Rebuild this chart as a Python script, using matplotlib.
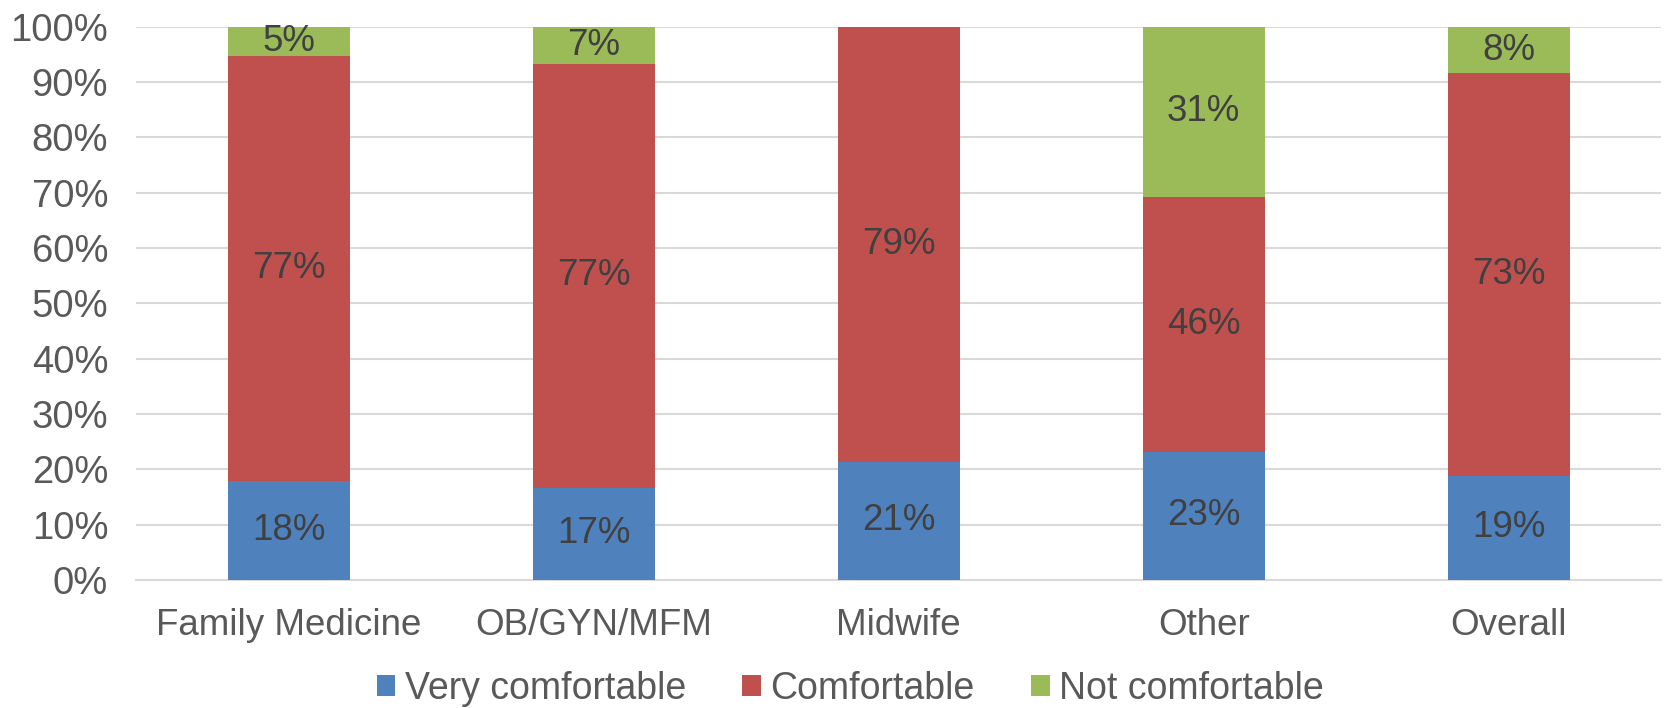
import numpy as np
import matplotlib.pyplot as plt

plt.rcParams['font.family'] = ['Liberation Sans', 'DejaVu Sans']

categories = ['Family Medicine', 'OB/GYN/MFM', 'Midwife', 'Other', 'Overall']
very_comfortable = [17.9, 16.7, 21.4, 23.1, 18.8]
comfortable = [76.9, 76.6, 78.6, 46.2, 72.8]
not_comfortable = [5.2, 6.7, 0.0, 30.7, 8.4]

series = [
    ('Very comfortable', very_comfortable, '#4F81BD'),
    ('Comfortable', comfortable, '#C0504D'),
    ('Not comfortable', not_comfortable, '#9BBB59'),
]

fig = plt.figure(figsize=(16.67, 7.08), dpi=100)
ax = fig.add_axes([0.0816, 0.181, 0.915, 0.781])

x = np.arange(len(categories))
bottom = np.zeros(len(categories))
for name, vals, color in series:
    vals = np.array(vals)
    bars = ax.bar(x, vals, 0.4, bottom=bottom, color=color, label=name, zorder=3)
    labels = [f'{v:.0f}%' if v > 0 else '' for v in vals]
    ax.bar_label(bars, labels=labels, label_type='center', fontsize=26.5,
                 color='#404040')
    bottom += vals

ax.set_xlim(-0.5, len(categories) - 0.5)
ax.set_ylim(0, 100)
ax.set_yticks(np.arange(0, 101, 10))
ax.set_yticklabels([f'{t}%' for t in range(0, 101, 10)])
ax.yaxis.grid(True, color='#D9D9D9', linewidth=1.5, zorder=0)
ax.set_axisbelow(True)
ax.set_xticks(x)
ax.set_xticklabels(categories)
ax.tick_params(axis='both', length=0, labelcolor='#595959')
ax.tick_params(axis='x', labelsize=26.5, pad=20)
ax.tick_params(axis='y', labelsize=27.5, pad=20)
for s in ['top', 'right', 'left']:
    ax.spines[s].set_visible(False)
ax.spines['bottom'].set_color('#D9D9D9')
ax.spines['bottom'].set_linewidth(1.5)

leg = fig.legend(loc='center', bbox_to_anchor=(0.51, 0.027), ncol=3,
                 frameon=False, fontsize=27, handlelength=0.5, handleheight=0.5,
                 handletextpad=0.25, columnspacing=1.5)
for t in leg.get_texts():
    t.set_color('#595959')

fig.savefig('out.png', dpi=100)
